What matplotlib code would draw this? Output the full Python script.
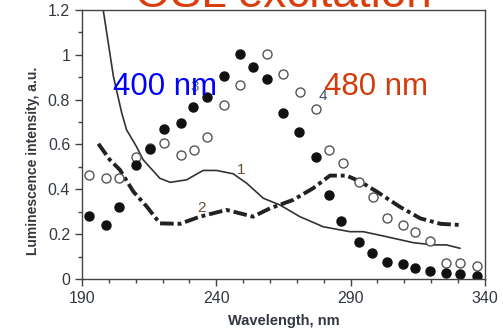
import numpy as np
import matplotlib
matplotlib.use('Agg')
import matplotlib.pyplot as plt
from matplotlib.ticker import MultipleLocator

plt.rcParams['font.family'] = ['Liberation Sans', 'DejaVu Sans']

# filled circles (curve 3)
wl_filled = [192.7, 198.9, 203.9, 210.1, 215.5, 220.5, 226.7, 231.4, 236.4, 242.8,
             248.8, 253.8, 258.7, 265.0, 270.9, 277.1, 282.1, 286.6, 293.1, 298.0,
             303.6, 309.4, 314.1, 319.5, 325.7, 330.7, 336.9]
int_filled = [0.28, 0.242, 0.323, 0.509, 0.579, 0.671, 0.695, 0.769, 0.811, 0.906,
              1.004, 0.945, 0.893, 0.74, 0.656, 0.546, 0.375, 0.259, 0.167, 0.114,
              0.077, 0.065, 0.05, 0.036, 0.025, 0.021, 0.013]

# open circles (curve 4)
wl_open = [192.7, 198.9, 203.9, 210.1, 215.5, 220.5, 226.7, 231.7, 236.6, 242.8,
           248.8, 258.7, 265.0, 271.1, 277.1, 282.1, 287.0, 293.0, 298.4, 303.6,
           309.4, 314.1, 319.5, 325.7, 330.7, 336.9]
int_open = [0.464, 0.449, 0.449, 0.546, 0.585, 0.606, 0.554, 0.576, 0.635, 0.774,
            0.863, 1.004, 0.915, 0.835, 0.76, 0.576, 0.516, 0.431, 0.367, 0.271,
            0.241, 0.211, 0.17, 0.073, 0.073, 0.058]

# curve 1 (solid)
wl_1 = [196.5, 197.9, 201.7, 204.8, 206.6, 210.3, 212.8, 219.0, 222.8, 228.9, 235.1,
        240.1, 246.3, 251.3, 257.5, 263.7, 271.1, 279.8, 289.7, 294.7, 302.1,
        313.3, 320.8, 325.7, 330.7]
int_1 = [1.26, 1.2, 0.903, 0.74, 0.665, 0.59, 0.531, 0.449, 0.431, 0.442, 0.484,
         0.484, 0.469, 0.427, 0.36, 0.33, 0.278, 0.233, 0.211, 0.211, 0.192,
         0.162, 0.152, 0.152, 0.137]

# curve 2 (dash-dot)
wl_2 = [196.1, 200.4, 204.1, 209.1, 214.1, 219.0, 226.5, 233.9, 243.8, 253.7,
        260.0, 268.7, 276.1, 282.3, 288.5, 293.5, 299.7, 308.6, 316.0, 323.5, 330.7]
int_2 = [0.603, 0.531, 0.487, 0.39, 0.323, 0.248, 0.246, 0.278, 0.308, 0.278,
         0.315, 0.353, 0.405, 0.461, 0.461, 0.435, 0.39, 0.32, 0.27, 0.246, 0.241]

xticks = [190, 240, 290, 340]
yticks = [0, 0.2, 0.4, 0.6, 0.8, 1.0, 1.2]
yticklabels = ['0', '0.2', '0.4', '0.6', '0.8', '1', '1.2']

fig = plt.figure(figsize=(5.03, 3.29), dpi=100)
ax = fig.add_axes([0.163, 0.152, 0.801, 0.818])

dark = '#333840'
ax.plot(wl_1, int_1, color='#333333', lw=1.2)
ax.plot(wl_2, int_2, color='#222222', lw=2.8, linestyle=(0, (3.5, 1.0, 1.0, 1.0)))
ax.plot(wl_open, int_open, 'o', ms=6.5, mfc='white', mec='#555555', mew=1.0)
ax.plot(wl_filled, int_filled, 'o', ms=6.5, mfc='#111111', mec='#111111')

ax.set_xlim(190, 340)
ax.set_ylim(0, 1.2)
ax.set_xticks(xticks)
ax.xaxis.set_minor_locator(MultipleLocator(10))
ax.set_yticks(yticks)
ax.set_yticklabels(yticklabels)
ax.yaxis.set_minor_locator(MultipleLocator(0.1))
ax.tick_params(which='major', direction='out', length=5, width=1, color='#444444',
               labelsize=11.5, labelcolor=dark)
ax.tick_params(which='minor', direction='out', length=3, width=1, color='#444444')
for s in ax.spines.values():
    s.set_color('#444444')
    s.set_linewidth(1.0)

ax.set_xlabel('Wavelength, nm', fontsize=10.5, fontweight='bold', color=dark, labelpad=6)
ax.set_ylabel('Luminescence intensity, a.u.', fontsize=10, fontweight='bold', color=dark)
ax.yaxis.set_label_coords(-0.105, 0.44)

# curve labels
ax.text(247.7, 0.47, '1', fontsize=11, color='#6a5030')
ax.text(232.8, 0.30, '2', fontsize=11, color='#6a5030')
ax.text(230.2, 0.84, '3', fontsize=11, color='#5a7090')
ax.text(278.0, 0.80, '4', fontsize=11, color='#3a4a60')

ax.text(201.5, 0.822, '400 nm', fontsize=22.5, color='#0000ff')
ax.text(280.0, 0.822, '480 nm', fontsize=22.5, color='#d23c0c')

fig.text(0.563, 0.9787, 'OSL excitation', fontsize=33, color='#d93e0c',
         ha='center', va='baseline')

fig.savefig('out.png', dpi=100)
